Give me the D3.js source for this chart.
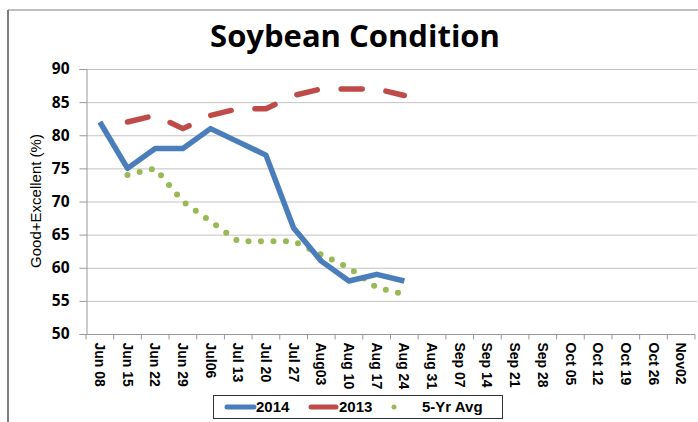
<!DOCTYPE html>
<html>
<head>
<meta charset="utf-8">
<script src="https://cdn.jsdelivr.net/npm/d3@7"></script>
<style>
  body { margin: 0; background: #fff; }
  svg { display: block; font-family: "Liberation Sans", Arial, sans-serif; }
</style>
</head>
<body>
<svg id="chart" width="698" height="422"></svg>
<script>
// weekly categories along the x axis
const weeks = ['Jun 08','Jun 15','Jun 22','Jun 29','Jul06','Jul 13','Jul 20','Jul 27',
  'Aug03','Aug 10','Aug 17','Aug 24','Aug 31','Sep 07','Sep 14','Sep 21','Sep 28',
  'Oct 05','Oct 12','Oct 19','Oct 26','Nov02']
const yTicks = [50, 55, 60, 65, 70, 75, 80, 85, 90]

// good+excellent ratings, null = no report
const cond2014 = [82, 75, 78, 78, 81, 79, 77, 66, 61, 58, 59, 58]
const cond2013 = [null, 82, 83, 81, 83, 84, 84, 86, 87, 87, 87, 86]
const avg5yr = [null, 74, 75, 70, 67, 64, 64, 64, 62, 60, 57, 56]

const series = [
  { name: '2014', values: cond2014, color: '#4a7ebb', dash: null, w: 5.5 },
  { name: '2013', values: cond2013, color: '#be4b48', dash: '21,24', w: 5.5 },
  { name: '5-Yr Avg', values: avg5yr, color: '#98b954', dash: '0,12.5', w: 6 }
]

const svg = d3.select('#chart')
const plotL = 86, plotR = 695, plotT = 69, plotB = 334

const x = d3.scaleBand().domain(weeks).range([plotL, plotR])
const y = d3.scaleLinear().domain([50, 90]).range([plotB, plotT])

// frame edges
svg.append('line').attr('x1', 8).attr('x2', 698).attr('y1', 10).attr('y2', 10)
  .attr('stroke', '#aaa').attr('stroke-width', 1.5)
svg.append('line').attr('x1', 8).attr('x2', 8).attr('y1', 10).attr('y2', 422)
  .attr('stroke', '#555').attr('stroke-width', 1.5)

svg.append('text')
  .attr('x', 355).attr('y', 47)
  .attr('text-anchor', 'middle')
  .style('font-family', '"Open Sans", sans-serif')
  .style('font-size', '31px').style('font-weight', 'bold')
  .text('Soybean Condition')

// gridlines
svg.append('g').selectAll('line').data(yTicks.slice(1)).join('line')
  .attr('x1', plotL).attr('x2', 697)
  .attr('y1', d => y(d) + 0.5).attr('y2', d => y(d) + 0.5)
  .attr('stroke', '#c3c3c3')

// y axis
const yAxis = svg.append('g').attr('transform', `translate(${plotL + 0.5},0)`)
  .call(d3.axisLeft(y).tickValues(yTicks).tickSize(7).tickPadding(10))
yAxis.select('.domain').attr('stroke', '#999')
yAxis.selectAll('.tick line').attr('stroke', '#999')
yAxis.selectAll('text').style('font-size', '15.5px').style('font-weight', 'bold')
  .style('font-family', '"Open Sans", sans-serif').attr('fill', '#000')

// x axis, ticks on band edges
const xAxis = svg.append('g').attr('transform', `translate(0,${plotB + 0.5})`)
xAxis.append('line').attr('x1', plotL).attr('x2', plotR).attr('stroke', '#999')
xAxis.selectAll('.edge').data(weeks.concat([null])).join('line')
  .attr('class', 'edge')
  .attr('x1', (d, i) => plotL + i * x.step()).attr('x2', (d, i) => plotL + i * x.step())
  .attr('y1', 0).attr('y2', 5).attr('stroke', '#999')
xAxis.selectAll('text').data(weeks).join('text')
  .attr('transform', d => `translate(${x(d) + x.bandwidth() / 2},8) rotate(90)`)
  .attr('dy', '0.35em')
  .style('font-size', '14px').style('font-weight', 'bold')
  .text(d => d)

// y axis title
svg.append('text')
  .attr('transform', 'translate(41,201) rotate(-90)')
  .attr('text-anchor', 'middle')
  .style('font-size', '15px')
  .text('Good+Excellent (%)')

// lines
const line = d3.line()
  .defined(d => d != null)
  .x((d, i) => x(weeks[i]) + x.bandwidth() / 2)
  .y(d => y(d))

svg.append('g').selectAll('path').data(series.slice().reverse()).join('path')
  .attr('d', s => line(s.values))
  .attr('fill', 'none')
  .attr('stroke', s => s.color)
  .attr('stroke-width', s => s.w)
  .attr('stroke-linecap', s => s.dash ? 'round' : 'butt')
  .attr('stroke-linejoin', 'round')
  .attr('stroke-dasharray', s => s.dash)

// legend
const lg = svg.append('g')
lg.append('rect').attr('x', 213.5).attr('y', 395.5).attr('width', 289).attr('height', 23)
  .attr('fill', '#fff').attr('stroke', '#333')
const items = [
  { s: series[0], x0: 227, x1: 254, tx: 256 },
  { s: series[1], x0: 311, x1: 336, tx: 339 },
  { s: series[2], x0: 394, x1: 411, tx: 422 }
]
items.forEach(it => {
  lg.append('line').attr('x1', it.x0).attr('x2', it.x1).attr('y1', 407).attr('y2', 407)
    .attr('stroke', it.s.color).attr('stroke-width', 5).attr('stroke-linecap', 'round')
    .attr('stroke-dasharray', it.s.name === '5-Yr Avg' ? '0,17' : null)
  lg.append('text').attr('x', it.tx).attr('y', 412)
    .style('font-size', '15px').style('font-weight', 'bold')
    .text(it.s.name)
})
</script>
</body>
</html>
